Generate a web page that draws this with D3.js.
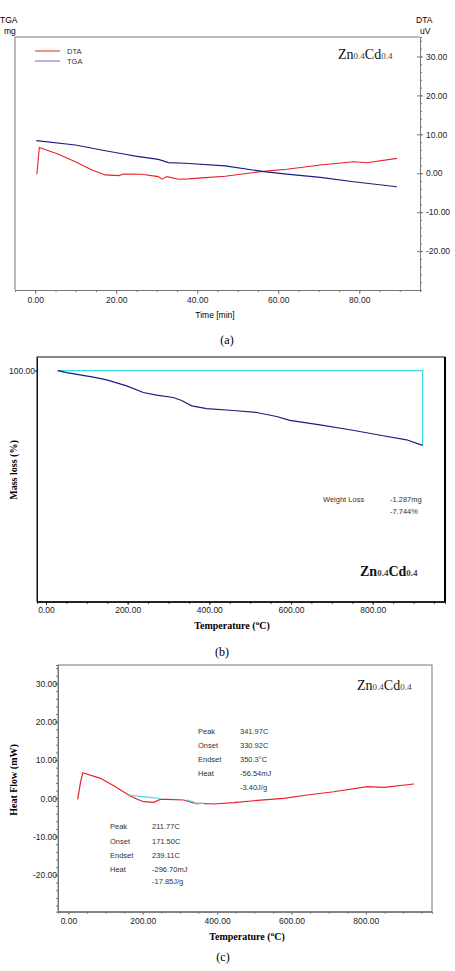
<!DOCTYPE html>
<html>
<head>
<meta charset="utf-8">
<script src="https://cdn.jsdelivr.net/npm/d3@7"></script>
<style>
	body { margin: 0; background: #fff; }
	svg { display: block; }
	.tick text { font-family: "Liberation Sans", Arial, sans-serif; font-size: 8.5px; fill: #222; }
</style>
</head>
<body>
<div id="container"></div>
<script>
// (a) DTA / TGA against time
var dtaTime = [0.4, 1.0, 5.75, 9.9, 14.0, 17.3, 20.6, 21.8, 26.3, 30.4, 31.3, 32.5, 35.4, 37.9, 42.0, 46.9, 55.6, 62.1, 70.4, 78.6, 81.9, 89.3]
var dtaVal = [-0.25, 6.6, 4.9, 2.95, 0.84, -0.43, -0.61, -0.18, -0.25, -0.87, -1.53, -0.87, -1.53, -1.45, -1.12, -0.76, 0.41, 1.02, 2.11, 2.95, 2.70, 3.82]
var tgaTime = [0.25, 9.9, 17.3, 22.2, 24.7, 30.4, 32.9, 37.0, 46.9, 56.4, 62.1, 70.4, 78.6, 89.3]
var tgaMg = [16.62, 16.50, 16.34, 16.24, 16.19, 16.10, 16.01, 15.99, 15.92, 15.76, 15.69, 15.60, 15.48, 15.34]
var timeTicks = [0, 20, 40, 60, 80]
var dtaTicks = [-20, -10, 0, 10, 20, 30]

// (b) mass loss against temperature
var tgTemp = [28.6, 50.7, 115.8, 148.6, 197.6, 238.2, 271.0, 311.6, 332.2, 356.7, 393.4, 458.5, 515.8, 564.7, 597.3, 670.7, 744.2, 825.7, 883.0, 922.2]
var tgPct = [100.0, 99.79, 99.32, 99.04, 98.42, 97.73, 97.46, 97.21, 96.90, 96.35, 96.07, 95.87, 95.66, 95.25, 94.84, 94.39, 93.88, 93.26, 92.84, 92.26]
var massTicks = [100]

// (c) heat flow against temperature
var hfTemp = [25, 32.3, 38.5, 86.1, 121.9, 140, 166.9, 184.9, 202.7, 229.6, 247.6, 265.7, 310.4, 323.8, 341.9, 355.3, 391, 445, 498.8, 579.5, 642.5, 714.1, 804, 848.7, 929.5]
var hfVal = [-0.26, 4.0, 6.68, 5.22, 3.29, 2.17, 0.6, -0.26, -0.89, -1.04, -0.26, -0.26, -0.44, -0.89, -1.30, -1.30, -1.49, -1.15, -0.63, 0, 0.86, 1.72, 3.03, 2.87, 3.73]
var base1Temp = [158, 200, 248]
var base1Val = [0.86, 0.45, -0.05]
var base2Temp = [318, 335, 345, 355, 365]
var base2Val = [-0.4, -0.9, -1.5, -1.3, -1.3]
var tempTicks = [0, 200, 400, 600, 800]
var hfTicks = [-20, -10, 0, 10, 20, 30]

var w = 455
var h = 971
var fmt = d => d.toFixed(2)
var sans = "'Liberation Sans', Arial, sans-serif"
var serif = "'Liberation Serif', 'Times New Roman', serif"

var svg = d3.select("#container")
	.append("svg")
	.attr("width", w)
	.attr("height", h)

let range = (a, b, s) => d3.range(a, b + s / 2, s)

let line = (x, y, xs, ys) => d3.line()
	.x((d, i) => x(xs[i]))
	.y((d, i) => y(ys[i]))(xs)

let title = (x, y, bold) => {
	let t = svg.append("text")
		.attr("x", x).attr("y", y)
		.style("font-family", serif)
		.style("font-size", "14px")
		.style("font-weight", bold ? "bold" : "normal")
		.attr("fill", "#111")
	t.append("tspan").text("Zn")
	t.append("tspan").style("font-size", "9px").attr("fill", "#444").text("0.4")
	t.append("tspan").text("Cd")
	t.append("tspan").style("font-size", "9px").attr("fill", "#444").text("0.4")
}

let tempLabel = (x, y) => {
	let t = svg.append("text")
		.attr("x", x).attr("y", y)
		.style("text-anchor", "middle")
		.style("font-family", serif)
		.style("font-size", "10px")
		.style("font-weight", "bold")
	t.append("tspan").text("Temperature (")
	t.append("tspan").attr("dy", -4).style("font-size", "7px").text("o")
	t.append("tspan").attr("dy", 4).text("C)")
}

let caption = (x, y, s) => {
	svg.append("text")
		.attr("x", x).attr("y", y)
		.style("text-anchor", "middle")
		.style("font-family", serif)
		.style("font-size", "12px")
		.text(s)
}

let smallText = (x, y, s) => {
	svg.append("text")
		.attr("x", x).attr("y", y)
		.style("font-family", sans)
		.style("font-size", "7.5px")
		.attr("fill", "#333")
		.text(s)
}

let clean = (g, col) => {
	g.select(".domain").attr("stroke", col)
	g.selectAll(".tick line").attr("stroke", col)
}

// ---------------- (a) ----------------
var a = { left: 15, right: 420, top: 37, bottom: 290 }

var xA = d3.scaleLinear().domain([-5, 95]).range([a.left, a.right])
var yDta = d3.scaleLinear().domain([-30, 35]).range([a.bottom, a.top])
var yTga = d3.scaleLinear().domain([12.47, 19.5]).range([a.bottom, a.top])

// frame
svg.append("path")
	.attr("d", "M" + a.left + "," + a.bottom + "V" + a.top + "H" + a.right)
	.attr("fill", "none").attr("stroke", "#777")

// x axis
svg.append("g")
	.attr("transform", "translate(0," + a.bottom + ")")
	.call(d3.axisBottom(xA).tickValues(range(0, 90, 5)).tickSize(2).tickFormat(""))
	.call(g => clean(g, "#777"))
svg.append("g")
	.attr("transform", "translate(0," + a.bottom + ")")
	.call(d3.axisBottom(xA).tickValues(timeTicks).tickSize(4).tickSizeOuter(0).tickFormat(fmt))
	.call(g => clean(g, "#777"))

// right DTA axis
svg.append("g")
	.attr("transform", "translate(" + a.right + ",0)")
	.call(d3.axisRight(yDta).tickValues(range(-28, 34, 2)).tickSize(2).tickFormat(""))
	.call(g => clean(g, "#777"))
svg.append("g")
	.attr("transform", "translate(" + a.right + ",0)")
	.call(d3.axisRight(yDta).tickValues(dtaTicks).tickSize(3).tickSizeOuter(0).tickFormat(fmt))
	.call(g => clean(g, "#777"))
	.call(g => g.selectAll(".tick line").attr("x1", -3))

svg.append("path")
	.attr("d", line(xA, yDta, dtaTime, dtaVal))
	.attr("fill", "none").attr("stroke", "#e8202a").attr("stroke-width", 1.1)
svg.append("path")
	.attr("d", line(xA, yTga, tgaTime, tgaMg))
	.attr("fill", "none").attr("stroke", "#1c1c80").attr("stroke-width", 1.1)

// legend
svg.append("line").attr("x1", 35).attr("x2", 60).attr("y1", 51).attr("y2", 51).attr("stroke", "#e8202a")
svg.append("line").attr("x1", 35).attr("x2", 60).attr("y1", 61).attr("y2", 61).attr("stroke", "#6a6ac0")
smallText(67, 54, "DTA")
smallText(67, 63.5, "TGA")

svg.append("text").attr("x", 0).attr("y", 23).style("font-family", sans).style("font-size", "8.5px").text("TGA")
svg.append("text").attr("x", 4).attr("y", 34).style("font-family", sans).style("font-size", "8.5px").text("mg")
svg.append("text").attr("x", 416).attr("y", 23).style("font-family", sans).style("font-size", "8.5px").text("DTA")
svg.append("text").attr("x", 420).attr("y", 34).style("font-family", sans).style("font-size", "8.5px").text("uV")

svg.append("text")
	.attr("x", 215).attr("y", 318)
	.style("text-anchor", "middle")
	.style("font-family", sans).style("font-size", "8.5px")
	.text("Time  [min]")

title(338, 59, false)
caption(227, 344, "(a)")

// ---------------- (b) ----------------
var b = { left: 37, right: 445, top: 357, bottom: 601.7 }

var xB = d3.scaleLinear().domain([-22, 977]).range([b.left, b.right])
var yB = d3.scaleLinear().domain([76.1, 101.4]).range([b.bottom, b.top])

svg.append("rect")
	.attr("x", b.left).attr("y", b.top)
	.attr("width", b.right - b.left).attr("height", b.bottom - b.top)
	.attr("fill", "none").attr("stroke", "#111")
svg.append("line")
	.attr("x1", b.right).attr("x2", b.right).attr("y1", b.top).attr("y2", b.bottom)
	.attr("stroke", "#000").attr("stroke-width", 2)

svg.append("g")
	.attr("transform", "translate(0," + b.bottom + ")")
	.call(d3.axisBottom(xB).tickValues(range(0, 950, 50)).tickSize(2).tickFormat(""))
	.call(g => clean(g, "#111"))
svg.append("g")
	.attr("transform", "translate(0," + b.bottom + ")")
	.call(d3.axisBottom(xB).tickValues(tempTicks).tickSize(3).tickSizeOuter(0).tickFormat(fmt))
	.call(g => clean(g, "#111"))
	.call(g => g.selectAll(".tick text").attr("y", 5))
svg.append("g")
	.attr("transform", "translate(" + b.left + ",0)")
	.call(d3.axisLeft(yB).tickValues(massTicks).tickSize(2).tickSizeOuter(0).tickFormat(fmt))
	.call(g => clean(g, "#111"))
	.call(g => g.selectAll(".tick text").attr("x", -2))

// weight loss step marker
var n = tgTemp.length - 1
svg.append("path")
	.attr("d", "M" + xB(tgTemp[0]) + "," + yB(tgPct[0]) + "H" + xB(tgTemp[n]) + "V" + yB(tgPct[n]))
	.attr("fill", "none").attr("stroke", "#3cdcec").attr("stroke-width", 1.2)
svg.append("path")
	.attr("d", line(xB, yB, tgTemp, tgPct))
	.attr("fill", "none").attr("stroke", "#1c1c80").attr("stroke-width", 1.2)

smallText(323, 502, "Weight Loss")
smallText(390, 502, "-1.287mg")
smallText(390, 514, "-7.744%")

svg.append("text")
	.attr("transform", "translate(17,470) rotate(-90)")
	.style("text-anchor", "middle")
	.style("font-family", serif).style("font-size", "10px").style("font-weight", "bold")
	.text("Mass loss (%)")

tempLabel(232, 629)
title(360, 576, true)
caption(222, 656, "(b)")

// ---------------- (c) ----------------
var c = { left: 58, right: 432, top: 665, bottom: 911.7 }

var xC = d3.scaleLinear().domain([-28, 978]).range([c.left, c.right])
var yC = d3.scaleLinear().domain([-29.6, 34.8]).range([c.bottom, c.top])

svg.append("rect")
	.attr("x", c.left).attr("y", c.top)
	.attr("width", c.right - c.left).attr("height", c.bottom - c.top)
	.attr("fill", "none").attr("stroke", "#777")

svg.append("g")
	.attr("transform", "translate(0," + c.bottom + ")")
	.call(d3.axisBottom(xC).tickValues(range(0, 950, 50)).tickSize(2).tickFormat(""))
	.call(g => clean(g, "#777"))
svg.append("g")
	.attr("transform", "translate(0," + c.bottom + ")")
	.call(d3.axisBottom(xC).tickValues(tempTicks).tickSize(3).tickSizeOuter(0).tickFormat(fmt))
	.call(g => clean(g, "#777"))
svg.append("g")
	.attr("transform", "translate(" + c.left + ",0)")
	.call(d3.axisLeft(yC).tickValues(range(-28, 34, 2)).tickSize(2).tickFormat(""))
	.call(g => clean(g, "#777"))
svg.append("g")
	.attr("transform", "translate(" + c.left + ",0)")
	.call(d3.axisLeft(yC).tickValues(hfTicks).tickSize(3).tickSizeOuter(0).tickFormat(fmt))
	.call(g => clean(g, "#777"))
	.call(g => g.selectAll(".tick text").attr("x", -1))

svg.append("path")
	.attr("d", line(xC, yC, hfTemp, hfVal))
	.attr("fill", "none").attr("stroke", "#e8202a").attr("stroke-width", 1.2)
svg.append("path")
	.attr("d", line(xC, yC, base1Temp, base1Val))
	.attr("fill", "none").attr("stroke", "#3cdcec").attr("stroke-width", 1.2)
svg.append("path")
	.attr("d", line(xC, yC, base2Temp, base2Val))
	.attr("fill", "none").attr("stroke", "#3cdcec").attr("stroke-width", 1.2)

// peak annotations
var pkLabels = ["Peak", "Onset", "Endset", "Heat", ""]
var pk1 = ["341.97C", "330.92C", "350.3°C", "-56.54mJ", "-3.40J/g"]
var pk2 = ["211.77C", "171.50C", "239.11C", "-296.70mJ", "-17.85J/g"]
var rows1 = [733.5, 747.5, 762, 776, 789.5]
var rows2 = [829, 843.5, 858, 872, 884]
pkLabels.forEach((s, i) => {
	smallText(198, rows1[i], s)
	smallText(240, rows1[i], pk1[i])
	smallText(110, rows2[i], s)
	smallText(152, rows2[i], pk2[i])
})

svg.append("text")
	.attr("transform", "translate(17,780) rotate(-90)")
	.style("text-anchor", "middle")
	.style("font-family", serif).style("font-size", "10px").style("font-weight", "bold")
	.text("Heat Flow (mW)")

tempLabel(247, 940)
title(357, 690, false)
caption(223, 961, "(c)")
</script>
</body>
</html>
